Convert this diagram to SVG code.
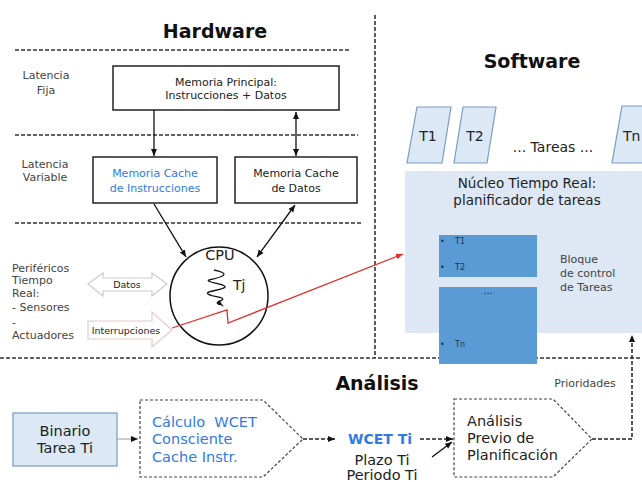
<svg xmlns="http://www.w3.org/2000/svg" width="642" height="482" viewBox="0 0 642 482">
  <defs>
    <marker id="ah" markerWidth="8" markerHeight="8" refX="7" refY="4" orient="auto-start-reverse" markerUnits="userSpaceOnUse">
      <path d="M0,1 L7,4 L0,7 z" fill="#111"/>
    </marker>
    <marker id="ahRed" markerWidth="8" markerHeight="8" refX="7" refY="4" orient="auto" markerUnits="userSpaceOnUse">
      <path d="M0,1 L7,4 L0,7 z" fill="#e03030"/>
    </marker>
  </defs>
  <style>
    text { font-family: "DejaVu Sans", "Liberation Sans", sans-serif; fill: #222; }
    .title { font-weight: bold; font-size: 19px; fill: #111; }
    .lbl { font-size: 11px; fill: #444; }
    .box { fill: #fff; stroke: #222; stroke-width: 1.5; }
    .task { fill: #dce8f5; stroke: #7a9cbf; stroke-width: 1.2; }
    .tcb { fill: #5b9bd5; }
    .tcbtxt { font-size: 8px; fill: #1c2f4a; }
    .sep { stroke: #333; stroke-width: 1.6; stroke-dasharray: 4 2; fill: none; }
    .penta { fill: #fff; stroke: #444; stroke-width: 1.2; stroke-dasharray: 3 2; }
    .blue { fill: #2f7ae5; }
    .wire { stroke: #111; stroke-width: 1.3; fill: none; }
    .dwire { stroke: #222; stroke-width: 1.5; fill: none; stroke-dasharray: 4 2; }
  </style>

  <rect width="642" height="482" fill="#fff"/>

  <!-- section separators -->
  <g id="separators">
    <line class="sep" x1="15" y1="50" x2="350" y2="50"/>
    <line class="sep" x1="15" y1="135" x2="358" y2="135"/>
    <line class="sep" x1="15" y1="223" x2="363" y2="223"/>
    <line class="sep" x1="0" y1="358" x2="642" y2="358"/>
    <line class="sep" x1="375" y1="15" x2="375" y2="358" stroke-width="2" stroke-dasharray="3 1.5"/>
  </g>

  <!-- section titles -->
  <text class="title" x="215" y="38" text-anchor="middle">Hardware</text>
  <text class="title" x="532" y="68" text-anchor="middle">Software</text>
  <text class="title" x="377" y="390" text-anchor="middle">Análisis</text>

  <!-- latency labels -->
  <g id="lat-fija">
    <text class="lbl" x="46" y="79" text-anchor="middle">Latencia</text>
    <text class="lbl" x="46" y="94" text-anchor="middle">Fija</text>
  </g>
  <g id="lat-variable">
    <text class="lbl" x="45" y="168" text-anchor="middle">Latencia</text>
    <text class="lbl" x="45" y="181" text-anchor="middle">Variable</text>
  </g>

  <!-- peripherals -->
  <g id="perifericos">
    <text class="lbl" x="12" y="272">Periféricos</text>
    <text class="lbl" x="12" y="284">Tiempo</text>
    <text class="lbl" x="12" y="297">Real:</text>
    <text class="lbl" x="12" y="311">- Sensores</text>
    <text class="lbl" x="12" y="326">-</text>
    <text class="lbl" x="12" y="339">Actuadores</text>
  </g>

  <!-- hardware nodes -->
  <g id="mem-principal">
    <rect class="box" x="113" y="66" width="226" height="44"/>
    <text x="226" y="86" text-anchor="middle" font-size="11">Memoria Principal:</text>
    <text x="226" y="99" text-anchor="middle" font-size="11">Instrucciones + Datos</text>
  </g>
  <g id="cache-instr">
    <rect class="box" x="93" y="157" width="124" height="46"/>
    <text class="blue" x="155" y="177" text-anchor="middle" font-size="11">Memoria Cache</text>
    <text class="blue" x="155" y="192" text-anchor="middle" font-size="11">de Instrucciones</text>
  </g>
  <g id="cache-datos">
    <rect class="box" x="235" y="157" width="122" height="46"/>
    <text x="296" y="177" text-anchor="middle" font-size="11">Memoria Cache</text>
    <text x="296" y="192" text-anchor="middle" font-size="11">de Datos</text>
  </g>
  <g id="cpu">
    <circle cx="219" cy="296" r="49" fill="#fff" stroke="#111" stroke-width="1.5"/>
    <text x="220" y="260" text-anchor="middle" font-size="14.5">CPU</text>
    <path d="M214,270 C228,273 228,276 209,280 C204,282 226,284 225,287 C224,290 204,291 208,294 C212,297 226,297 222,300 C219,302 214,302 220,305" fill="none" stroke="#111" stroke-width="1.3"/>
    <path d="M217,303 L224,307 L219,300 z" fill="#111"/>
    <text x="233" y="290" font-size="14">Tj</text>
  </g>

  <!-- peripheral I/O arrows -->
  <g id="datos-io">
    <path d="M88,284 L103,273 L103,278 L152,278 L152,273 L167,284 L152,296 L152,291 L103,291 L103,296 z" fill="#fff" stroke="#ccc" stroke-width="1.2"/>
    <text x="127" y="288" text-anchor="middle" font-size="9.5">Datos</text>
  </g>
  <g id="interrupciones">
    <path d="M88,321 L152,321 L152,312 L172,330 L152,347 L152,339 L88,339 z" fill="#fff" stroke="#e2cccc" stroke-width="1.2"/>
    <text x="126" y="333.5" text-anchor="middle" font-size="9.5">Interrupciones</text>
  </g>

  <!-- software nodes -->
  <g id="tarea-t1">
    <path class="task" d="M417,107 L451,107 L442,163 L407,163 z"/>
    <text x="428" y="141" text-anchor="middle" font-size="14">T1</text>
  </g>
  <g id="tarea-t2">
    <path class="task" d="M463,107 L496,107 L487,163 L454,163 z"/>
    <text x="475" y="141" text-anchor="middle" font-size="14">T2</text>
  </g>
  <text x="553" y="152" text-anchor="middle" font-size="14">... Tareas ...</text>
  <g id="tarea-tn">
    <path class="task" d="M622,106 L660,106 L650,163 L612,163 z"/>
    <text x="623" y="141" font-size="14">Tn</text>
  </g>

  <g id="nucleo">
    <rect x="405" y="171" width="250" height="162" fill="#dde8f4"/>
    <text x="527" y="188" text-anchor="middle" font-size="13.5">Núcleo Tiempo Real:</text>
    <text x="527" y="205" text-anchor="middle" font-size="13.5">planificador de tareas</text>
    <text class="lbl" x="560" y="263">Bloque</text>
    <text class="lbl" x="560" y="277">de control</text>
    <text class="lbl" x="560" y="291">de Tareas</text>
  </g>
  <g id="tcb">
    <rect class="tcb" x="439" y="235" width="98" height="42"/>
    <rect class="tcb" x="439" y="287" width="98" height="77"/>
    <text class="tcbtxt" x="440" y="244">•</text>
    <text class="tcbtxt" x="455" y="244">T1</text>
    <text class="tcbtxt" x="440" y="270">•</text>
    <text class="tcbtxt" x="455" y="270">T2</text>
    <text x="488" y="294" text-anchor="middle" font-size="10" fill="#e8eef6">...</text>
    <text class="tcbtxt" x="440" y="347">•</text>
    <text class="tcbtxt" x="455" y="347">Tn</text>
  </g>

  <!-- analysis nodes -->
  <g id="binario">
    <rect x="13" y="413" width="104" height="53" fill="#dce8f5" stroke="#7a9cbf" stroke-width="1.2"/>
    <text x="65" y="436" text-anchor="middle" font-size="14.5">Binario</text>
    <text x="65" y="453" text-anchor="middle" font-size="14.5">Tarea Ti</text>
  </g>
  <g id="calculo-wcet">
    <path class="penta" d="M140,400 L263,400 L303,439 L263,477 L140,477 z"/>
    <text class="blue" x="152" y="427" font-size="14.5">Cálculo&#160; WCET</text>
    <text class="blue" x="152" y="444" font-size="14.5">Consciente</text>
    <text class="blue" x="152" y="462" font-size="14.5">Cache Instr.</text>
  </g>
  <g id="wcet-ti">
    <text class="blue" x="380" y="444" text-anchor="middle" font-size="14" font-weight="bold">WCET Ti</text>
  </g>
  <g id="plazo-periodo">
    <text x="382" y="465" text-anchor="middle" font-size="14.5">Plazo Ti</text>
    <text x="382" y="480" text-anchor="middle" font-size="14.5">Periodo Ti</text>
  </g>
  <g id="analisis-previo">
    <path class="penta" d="M454,399 L553,399 L592,439 L553,477 L454,477 z"/>
    <text x="467" y="426" font-size="14.5">Análisis</text>
    <text x="467" y="443" font-size="14.5">Previo de</text>
    <text x="467" y="460" font-size="14.5">Planificación</text>
  </g>
  <text class="lbl" x="585" y="387" text-anchor="middle">Prioridades</text>

  <!-- connectors -->
  <g id="connectors">
    <line class="wire" x1="154" y1="110" x2="154" y2="156" marker-end="url(#ah)"/>
    <line class="wire" x1="296" y1="112" x2="296" y2="156" marker-start="url(#ah)" marker-end="url(#ah)"/>
    <line class="wire" x1="154" y1="204" x2="186" y2="257" marker-end="url(#ah)"/>
    <line class="wire" x1="295" y1="205" x2="257" y2="257" marker-start="url(#ah)" marker-end="url(#ah)"/>
    <polyline points="172,328 227,310 228,323 403,254" fill="none" stroke="#e03030" stroke-width="1.3" marker-end="url(#ahRed)"/>
    <line x1="117" y1="439" x2="138" y2="439" stroke="#aaa" stroke-width="1.2" marker-end="url(#ah)"/>
    <line class="dwire" x1="303" y1="439" x2="335" y2="439" marker-end="url(#ah)"/>
    <line class="dwire" x1="420" y1="439" x2="453" y2="439" marker-end="url(#ah)"/>
    <line class="wire" x1="432" y1="457" x2="452" y2="442" marker-end="url(#ah)"/>
    <polyline class="dwire" points="592,439 632,439 632,335" marker-end="url(#ah)"/>
  </g>
</svg>
